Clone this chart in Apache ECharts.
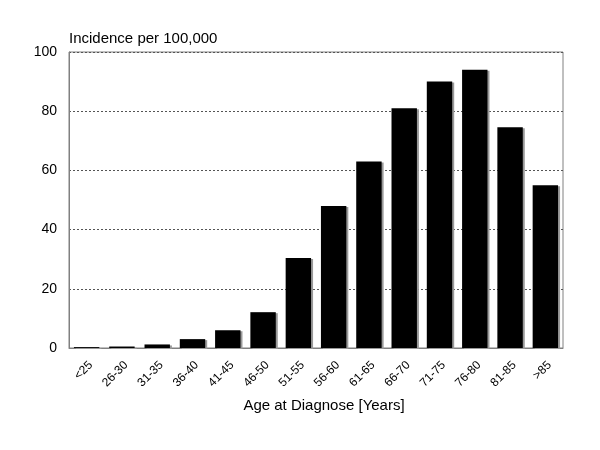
<!DOCTYPE html>
<html><head><meta charset="utf-8">
<script src="https://cdn.jsdelivr.net/npm/echarts@6/dist/echarts.min.js"></script>
<style>html,body{margin:0;padding:0;background:#fff}#c{width:600px;height:450px}</style>
</head><body><div id="c"></div>
<script>
var categories = ['<25','26-30','31-35','36-40','41-45','46-50','51-55','56-60','61-65','66-70','71-75','76-80','81-85','>85'];
var incidence = [0.3,0.5,1.2,3,6,12.1,30.4,48,63,81,90,94,74.6,55];
var yTicks = [0,20,40,60,80,100];

var chart = echarts.init(document.getElementById('c'), null, {renderer:'canvas'});
var font = 'Arial, "Liberation Sans", sans-serif';
chart.setOption({
  animation:false,
  backgroundColor:'#fff',
  grid:{left:69,right:37,top:52,bottom:102,show:true,borderColor:'#808080',borderWidth:1,backgroundColor:'transparent'},
  xAxis:{
    type:'category', data:categories,
    name:'Age at Diagnose [Years]', nameLocation:'middle', nameGap:50,
    nameTextStyle:{fontFamily:font,fontSize:15,color:'#000',padding:[0,0,0,16]},
    axisLine:{lineStyle:{color:'#808080'}},
    axisTick:{show:false},
    axisLabel:{rotate:45,fontFamily:font,fontSize:12,color:'#000',margin:11,interval:0,verticalAlign:'top'}
  },
  yAxis:{
    type:'value', min:yTicks[0], max:yTicks[yTicks.length-1], interval:20,
    name:'Incidence per 100,000', nameLocation:'end', nameGap:6,
    nameTextStyle:{fontFamily:font,fontSize:15,color:'#000',align:'left',padding:[0,0,0,0]},
    axisLine:{show:true,lineStyle:{color:'#808080'}},
    axisTick:{show:false},
    axisLabel:{fontFamily:font,fontSize:14,color:'#000',margin:12},
    splitLine:{show:true,lineStyle:{type:[2,2],color:'#555',width:1}}
  },
  series:[{
    type:'bar', data:incidence, barCategoryGap:'28%',
    itemStyle:{color:'#000',shadowColor:'#999',shadowOffsetX:2,shadowOffsetY:1,shadowBlur:0}
  }]
});
</script></body></html>
